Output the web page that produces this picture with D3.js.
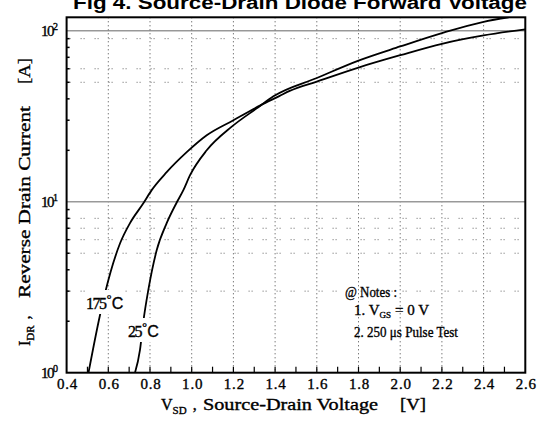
<!DOCTYPE html>
<html><head><meta charset="utf-8">
<script src="https://cdn.jsdelivr.net/npm/d3@7"></script>
<style>
html,body{margin:0;padding:0;background:#fff;}
svg{display:block;}
text{font-family:"Liberation Serif","DejaVu Serif",serif;fill:#000;stroke:#000;stroke-width:0.35px;}
text.title{stroke:none;}
</style></head>
<body>
<svg id="c" width="539" height="422"></svg>
<script>
// ---- data ----
const v175 = [0.505, 0.56, 0.584, 0.656, 0.704, 0.768, 0.808, 0.88, 0.976, 1.072, 1.2, 1.327, 1.42, 1.47, 1.6, 1.8, 2.0, 2.2, 2.4, 2.6];
const i175 = [1, 2.17, 2.91, 5.7, 7.5, 9.8, 11.7, 14.9, 19.5, 24.5, 30, 36.5, 41.5, 44.5, 50.5, 61, 72, 84, 94, 102];
const v25 = [0.728, 0.752, 0.768, 0.792, 0.832, 0.88, 0.928, 0.96, 0.992, 1.072, 1.192, 1.312, 1.392, 1.6, 1.8, 2.0, 2.2, 2.4, 2.52];
const i25 = [1, 1.36, 1.99, 3.05, 5.2, 7.5, 9.9, 11.7, 14.3, 20, 27.5, 35.2, 41.4, 53, 67, 81, 97, 113, 120];
const xTickLabels = ["0.4","0.6","0.8","1.0","1.2","1.4","1.6","1.8","2.0","2.2","2.4","2.6"];
const yDecades = [1, 10, 100];
const yDecadeExp = ["0","1","2"];
const hGridUpper = [90, 60, 50];
const hGridLower = [8, 7, 6, 5, 3];

const svg = d3.select("#c");
const L = 66.6, R = 525.3, T = 17.3, B = 372.7;
const x = d3.scaleLinear().domain([0.4, 2.6]).range([L, R]);
const y = d3.scaleLog().domain([1, 120]).range([B, T]);

// title (cut at the top, as in the reference)
svg.append("text").attr("class", "title").attr("x", 73).attr("y", 9)
  .attr("textLength", 454).attr("lengthAdjust", "spacingAndGlyphs")
  .style("font-family", "'Liberation Sans',Arial,sans-serif").style("font-weight", "bold").style("font-size", "18px")
  .text("Fig 4.  Source-Drain Diode Forward Voltage");

svg.append("defs").append("clipPath").attr("id", "clip")
  .append("rect").attr("x", L).attr("y", T).attr("width", R - L).attr("height", B - T);

const g = svg.append("g");

// vertical dotted grid
const vg = xTickLabels.map(Number).filter(v => v > 0.41 && v < 2.59);
g.selectAll(".vg").data(vg).join("line")
  .attr("x1", d => x(d)).attr("x2", d => x(d)).attr("y1", T).attr("y2", B)
  .attr("stroke", "#444").attr("stroke-width", 1).attr("stroke-dasharray", "1,3");

// horizontal dotted grid
g.selectAll(".hg").data(hGridUpper.concat(hGridLower)).join("line")
  .attr("x1", L).attr("x2", R).attr("y1", d => y(d)).attr("y2", d => y(d))
  .attr("stroke", "#666").attr("stroke-width", 1).attr("stroke-dasharray", "1,2,1,10");

// solid gray decade lines
g.append("line").attr("x1", L).attr("x2", R).attr("y1", y(10)).attr("y2", y(10))
  .attr("stroke", "#999").attr("stroke-width", 1.6);
g.append("line").attr("x1", L).attr("x2", R).attr("y1", y(100)).attr("y2", y(100))
  .attr("stroke", "#666").attr("stroke-width", 1);

// x ticks (inward, every 0.1)
const xt = d3.range(5, 26).map(k => k / 10);
g.selectAll(".xt").data(xt).join("line")
  .attr("x1", d => x(d)).attr("x2", d => x(d)).attr("y1", B).attr("y2", B - 6)
  .attr("stroke", "#000").attr("stroke-width", 1.2);

// y minor ticks (inward)
const yt = [];
[1, 10].forEach(dec => { for (let k = 2; k <= 9; k++) yt.push(k * dec); });
g.selectAll(".yt").data(yt).join("line")
  .attr("x1", L).attr("x2", L + 3).attr("y1", d => y(d)).attr("y2", d => y(d))
  .attr("stroke", "#000").attr("stroke-width", 1.5);

// curves
const line = d3.line().x(d => x(d[0])).y(d => y(d[1])).curve(d3.curveMonotoneX);
const cg = svg.append("g").attr("clip-path", "url(#clip)");
cg.append("path").datum(v175.map((v, i) => [v, i175[i]])).attr("d", line)
  .attr("fill", "none").attr("stroke", "#000").attr("stroke-width", 1.8);
cg.append("path").datum(v25.map((v, i) => [v, i25[i]])).attr("d", line)
  .attr("fill", "none").attr("stroke", "#000").attr("stroke-width", 1.8);

// curve labels with white backing
function tempLabel(tx, ty, num) {
  const t = svg.append("text").attr("x", tx).attr("y", ty).style("font-size", "16px");
  t.append("tspan").text(num).attr("letter-spacing", "-1.5");
  t.append("tspan").text("°").attr("dx", 1).attr("dy", -5).style("font-size", "13px").style("font-family", "'Liberation Sans',sans-serif");
  t.append("tspan").text("C").attr("dy", 5).style("font-family", "'Liberation Sans',sans-serif");
  const bb = t.node().getBBox();
  svg.insert("rect", () => t.node()).attr("x", bb.x - 1).attr("y", bb.y - 2)
    .attr("width", bb.width + 2).attr("height", bb.height + 4).attr("fill", "#fff");
}
tempLabel(86, 309, "175");
tempLabel(128, 337, "25");

// frame
svg.append("rect").attr("x", L).attr("y", T).attr("width", R - L).attr("height", B - T)
  .attr("fill", "none").attr("stroke", "#000").attr("stroke-width", 2);

// x tick labels
svg.selectAll(".xl").data(xTickLabels).join("text")
  .attr("x", d => x(+d) + 1).attr("y", 389).attr("text-anchor", "middle")
  .attr("letter-spacing", "0.8").style("font-size", "15px").text(d => d);

// y tick labels
yDecades.forEach((d, i) => {
  const t = svg.append("text").attr("x", 41).attr("y", y(d) + 5).style("font-size", "15px");
  t.append("tspan").text("10").attr("letter-spacing", "-1.5");
  t.append("tspan").text(yDecadeExp[i]).attr("dy", -6).style("font-size", "10px");
});

// x axis title
const xa = svg.append("text").attr("x", 161).attr("y", 410).style("font-size", "16px");
xa.append("tspan").text("V");
xa.append("tspan").text("SD").attr("dy", 4).style("font-size", "11px");
xa.append("tspan").text(",").attr("dx", 6).attr("dy", -4);
svg.append("text").attr("x", 203).attr("y", 410).style("font-size", "16px")
  .attr("textLength", 175).attr("lengthAdjust", "spacingAndGlyphs").text("Source-Drain Voltage");
svg.append("text").attr("x", 400).attr("y", 410).style("font-size", "16px")
  .attr("textLength", 26).attr("lengthAdjust", "spacingAndGlyphs").text("[V]");

// y axis title (rotated)
const ya = svg.append("g").attr("transform", "translate(30,0) rotate(-90)");
const y1 = ya.append("text").attr("x", -346).attr("y", 0).style("font-size", "16px");
y1.append("tspan").text("I");
y1.append("tspan").text("DR").attr("dy", 4).style("font-size", "11px");
y1.append("tspan").text(",").attr("dx", 6).attr("dy", -4);
ya.append("text").attr("x", -298).attr("y", 0).style("font-size", "16px")
  .attr("textLength", 192).attr("lengthAdjust", "spacingAndGlyphs").text("Reverse Drain Current");
ya.append("text").attr("x", -84).attr("y", 0).style("font-size", "16px")
  .attr("textLength", 26).attr("lengthAdjust", "spacingAndGlyphs").text("[A]");

// notes
svg.append("text").attr("x", 345).attr("y", 297).style("font-size", "15px")
  .attr("textLength", 52).attr("lengthAdjust", "spacingAndGlyphs").text("@ Notes :");
const n1 = svg.append("text").attr("x", 354).attr("y", 315).style("font-size", "15px");
n1.append("tspan").text("1. V");
n1.append("tspan").text("GS").attr("dy", 3).style("font-size", "9px");
n1.append("tspan").text("= 0 V").attr("dx", 4).attr("dy", -3);
svg.append("text").attr("x", 354).attr("y", 337).style("font-size", "15px")
  .attr("textLength", 104).attr("lengthAdjust", "spacingAndGlyphs").text("2. 250 μs Pulse Test");
</script>
</body></html>
